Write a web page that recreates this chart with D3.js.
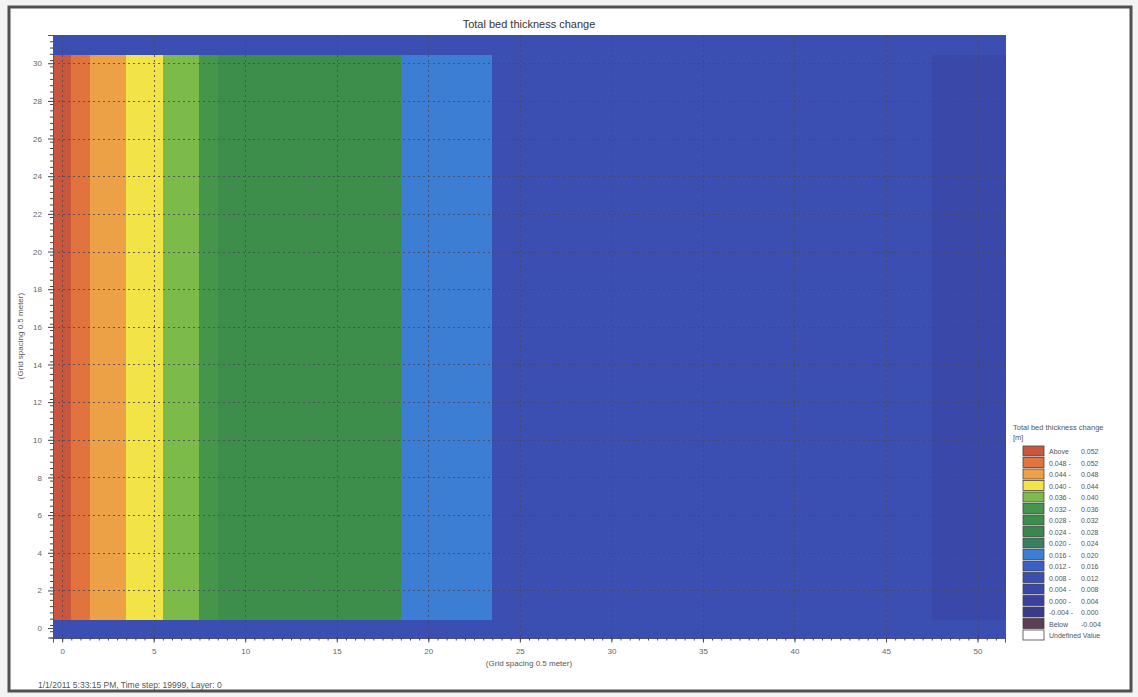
<!DOCTYPE html>
<html>
<head>
<meta charset="utf-8">
<script src="https://cdn.jsdelivr.net/npm/d3@7"></script>
<style>
  html, body { margin: 0; padding: 0; background: #f3f3f3; }
  svg { display: block; font-family: "Liberation Sans", Arial, sans-serif; }
</style>
</head>
<body>
<svg id="chart" width="1138" height="697"></svg>
<script>
// Grid columns (x index) and rows (y index)
const columns = d3.range(0, 52);
const rows = d3.range(0, 32);

// Bed thickness change [m] per grid column (rows 1..30)
const columnValues = [
  0.054, 0.050, 0.046, 0.046, 0.042, 0.042, 0.038, 0.038,
  0.034, 0.030, 0.030, 0.030, 0.030, 0.030, 0.030, 0.030, 0.030, 0.030, 0.030,
  0.018, 0.018, 0.018, 0.018, 0.018,
  0.010, 0.010, 0.010, 0.010, 0.010, 0.010, 0.010, 0.010, 0.010, 0.010,
  0.010, 0.010, 0.010, 0.010, 0.010, 0.010, 0.010, 0.010, 0.010, 0.010,
  0.010, 0.010, 0.010, 0.010, 0.006, 0.006, 0.006, 0.006
];
// Boundary rows (row 0 and row 31)
const boundaryValue = 0.010;

// Legend classes
const thresholds = [-0.004, 0.000, 0.004, 0.008, 0.012, 0.016, 0.020, 0.024,
                    0.028, 0.032, 0.036, 0.040, 0.044, 0.048, 0.052];
const classColors = ["#5e3e52", "#393a8c", "#3a409c", "#3a48aa", "#3b4fb3", "#3b5fc4",
                     "#3c7ed4", "#3a8060", "#38884e", "#3d8e4a", "#45964a",
                     "#7cbb49", "#f2e347", "#eda147", "#e0733e", "#c9573d"];
const legendLabels = [
  ["Above", "0.052"], ["0.048 -", "0.052"], ["0.044 -", "0.048"], ["0.040 -", "0.044"],
  ["0.036 -", "0.040"], ["0.032 -", "0.036"], ["0.028 -", "0.032"], ["0.024 -", "0.028"],
  ["0.020 -", "0.024"], ["0.016 -", "0.020"], ["0.012 -", "0.016"], ["0.008 -", "0.012"],
  ["0.004 -", "0.008"], ["0.000 -", "0.004"], ["-0.004 -", "0.000"], ["Below", "-0.004"],
  ["Undefined Value", ""]
];
const xTicks = d3.range(0, 51, 5);
const yTicks = d3.range(0, 31, 2);

const svg = d3.select("#chart");

// page frame
svg.append("rect").attr("x", 9).attr("y", 7).attr("width", 1122).attr("height", 684)
  .attr("fill", "#ffffff").attr("stroke", "#505050").attr("stroke-width", 3);

const x = d3.scaleLinear().domain([-0.5, 51.5]).range([53, 1005]);
const y = d3.scaleLinear().domain([-0.5, 31.5]).range([637.5, 35]);
const color = d3.scaleThreshold().domain(thresholds).range(classColors);

// cells
const cells = [];
rows.forEach(r => columns.forEach(c => {
  cells.push({ c, r, v: (r === 0 || r === rows.length - 1) ? boundaryValue : columnValues[c] });
}));
svg.append("g").attr("shape-rendering", "crispEdges")
  .selectAll("rect").data(cells).join("rect")
  .attr("x", d => x(d.c - 0.5))
  .attr("y", d => y(d.r + 0.5))
  .attr("width", d => x(d.c + 0.5) - x(d.c - 0.5) + 1)
  .attr("height", d => y(d.r - 0.5) - y(d.r + 0.5) + 1)
  .attr("fill", d => color(d.v));

// dashed grid (grey-blue, so it fades out over the dark blue cells)
const grid = svg.append("g").attr("stroke", "#48485c").attr("stroke-opacity", 0.85)
  .attr("stroke-width", 1).attr("stroke-dasharray", "2,3");
grid.selectAll("line.h").data(yTicks.filter(v => v > 0)).join("line")
  .attr("x1", x(-0.5)).attr("x2", x(51.5))
  .attr("y1", d => Math.round(y(d)) + 0.5).attr("y2", d => Math.round(y(d)) + 0.5);
grid.selectAll("line.v").data(xTicks).join("line")
  .attr("y1", y(31.5)).attr("y2", y(-0.5))
  .attr("x1", d => Math.round(x(d)) + 0.5).attr("x2", d => Math.round(x(d)) + 0.5);

// axes
const axisStyle = g => {
  g.select(".domain").attr("stroke", "#555");
  g.selectAll(".tick line").attr("stroke", "#444");
  g.selectAll(".tick text").attr("fill", "#666").style("font-size", "8px");
};
svg.append("g").attr("transform", `translate(0,${y(-0.5)})`)
  .call(d3.axisBottom(x).tickValues(d3.range(-0.5, 51.6, 0.5)).tickSize(3).tickFormat(""))
  .call(g => { g.select(".domain").remove(); g.selectAll(".tick line").attr("stroke", "#444"); });
svg.append("g").attr("transform", `translate(0,${y(-0.5)})`)
  .call(d3.axisBottom(x).tickValues(xTicks).tickSize(5).tickPadding(6).tickFormat(d3.format("d")))
  .call(axisStyle);
svg.append("g").attr("transform", `translate(${x(-0.5)},0)`)
  .call(d3.axisLeft(y).tickValues(d3.range(-0.5, 31.6, 1 / 3)).tickSize(3).tickFormat(""))
  .call(g => { g.select(".domain").remove(); g.selectAll(".tick line").attr("stroke", "#444"); });
svg.append("g").attr("transform", `translate(${x(-0.5)},0)`)
  .call(d3.axisLeft(y).tickValues(yTicks).tickSize(5).tickPadding(6).tickFormat(d3.format("d")))
  .call(axisStyle);

// titles
svg.append("text").attr("x", 529).attr("y", 28).attr("text-anchor", "middle")
  .style("font-size", "11px").attr("fill", "#333").text("Total bed thickness change");
svg.append("text").attr("x", 529).attr("y", 666).attr("text-anchor", "middle")
  .style("font-size", "8px").attr("fill", "#555").text("(Grid spacing 0.5 meter)");
svg.append("text").attr("transform", "translate(23,336) rotate(-90)").attr("text-anchor", "middle")
  .style("font-size", "8px").attr("fill", "#555").text("(Grid spacing 0.5 meter)");
svg.append("text").attr("x", 38).attr("y", 688)
  .style("font-size", "8.5px").attr("fill", "#555").text("1/1/2011 5:33:15 PM, Time step: 19999, Layer: 0");

// legend
const lg = svg.append("g").attr("transform", "translate(1013,0)");
lg.append("text").attr("x", 0).attr("y", 430).style("font-size", "7.5px").attr("fill", "#555")
  .text("Total bed thickness change");
lg.append("text").attr("x", 0).attr("y", 440).style("font-size", "7.5px").attr("fill", "#555").text("[m]");
const legendColors = classColors.slice().reverse().concat(["#ffffff"]);
const rowH = 11.5;
const items = lg.selectAll("g.item").data(legendLabels).join("g")
  .attr("transform", (d, i) => `translate(0,${446 + i * rowH})`);
items.append("rect").attr("x", 10).attr("y", 0).attr("width", 21).attr("height", rowH - 1.5)
  .attr("fill", (d, i) => legendColors[i]).attr("stroke", "#444").attr("stroke-width", 0.8);
items.append("text").attr("x", 36).attr("y", 8).style("font-size", "7px").attr("fill", "#555")
  .text(d => d[0]);
items.append("text").attr("x", 68).attr("y", 8).style("font-size", "7px").attr("fill", "#555")
  .text(d => d[1]);
</script>
</body>
</html>
